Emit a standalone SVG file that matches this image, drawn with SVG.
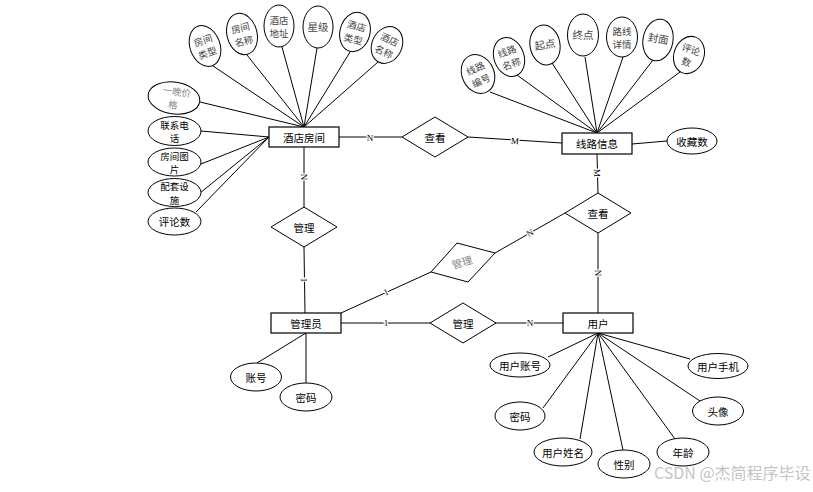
<svg xmlns="http://www.w3.org/2000/svg" width="813" height="492" viewBox="0 0 813 492">
<style>
.e{fill:#fff;stroke:#000;stroke-width:1}
.b{fill:#fff;stroke:#000;stroke-width:1.2}
.d{fill:#fff;stroke:#000;stroke-width:1}
.ln{stroke:#000;stroke-width:1;fill:none}
.t{font-family:"Noto Sans CJK SC","Noto Sans",sans-serif;font-size:10.5px;text-anchor:middle;dominant-baseline:central;fill:#000}
.s{font-size:9.5px}
.g{fill:#444}
.lg{fill:#888}
.l{font-family:"Liberation Serif","Noto Sans CJK SC",serif;font-size:9px;text-anchor:middle;dominant-baseline:central;fill:#000;stroke:#fff;stroke-width:2.5;paint-order:stroke}
.w{font-family:"Noto Sans CJK SC","Noto Sans",sans-serif;font-size:16px;fill:#c4c4c4}
</style>
<rect width="813" height="492" fill="#fff"/>
<g id="connectors">
<line class="ln" x1="213" y1="66" x2="304" y2="127"/>
<line class="ln" x1="247" y1="55" x2="304" y2="127"/>
<line class="ln" x1="282" y1="47" x2="304" y2="127"/>
<line class="ln" x1="317" y1="48" x2="304" y2="127"/>
<line class="ln" x1="350" y1="52" x2="304" y2="127"/>
<line class="ln" x1="378" y1="62" x2="304" y2="127"/>
<line class="ln" x1="200" y1="102" x2="304" y2="127"/>
<line class="ln" x1="201" y1="131" x2="269" y2="137"/>
<line class="ln" x1="201" y1="164" x2="269" y2="137"/>
<line class="ln" x1="200" y1="193" x2="269" y2="137"/>
<line class="ln" x1="196" y1="212" x2="269" y2="137"/>
<line class="ln" x1="490" y1="92" x2="597" y2="133"/>
<line class="ln" x1="517" y1="75" x2="597" y2="133"/>
<line class="ln" x1="552" y1="63" x2="597" y2="133"/>
<line class="ln" x1="585" y1="57" x2="597" y2="133"/>
<line class="ln" x1="623" y1="57" x2="597" y2="133"/>
<line class="ln" x1="653" y1="60" x2="597" y2="133"/>
<line class="ln" x1="680" y1="72" x2="597" y2="133"/>
<line class="ln" x1="632" y1="144" x2="667" y2="141"/>
<line class="ln" x1="339" y1="137" x2="402" y2="137"/>
<line class="ln" x1="468" y1="137" x2="562" y2="143"/>
<line class="ln" x1="304" y1="147" x2="304" y2="207"/>
<line class="ln" x1="304" y1="247" x2="305" y2="313"/>
<line class="ln" x1="341" y1="313" x2="431" y2="272"/>
<line class="ln" x1="495" y1="253" x2="565" y2="213"/>
<line class="ln" x1="597" y1="154" x2="598" y2="193"/>
<line class="ln" x1="598" y1="233" x2="598" y2="313"/>
<line class="ln" x1="341" y1="323" x2="430" y2="323"/>
<line class="ln" x1="495" y1="323" x2="563" y2="323"/>
<line class="ln" x1="306" y1="333" x2="257" y2="363"/>
<line class="ln" x1="306" y1="333" x2="306" y2="383"/>
<line class="ln" x1="598" y1="333" x2="548" y2="357"/>
<line class="ln" x1="598" y1="333" x2="690" y2="359"/>
<line class="ln" x1="598" y1="333" x2="543" y2="408"/>
<line class="ln" x1="598" y1="333" x2="700" y2="401"/>
<line class="ln" x1="598" y1="333" x2="580" y2="439"/>
<line class="ln" x1="598" y1="333" x2="623" y2="450"/>
<line class="ln" x1="598" y1="333" x2="675" y2="439"/>
<text class="l" x="370" y="138">N</text>
<text class="l" x="515" y="141" transform="rotate(4 515 141)">M</text>
<text class="l" x="304" y="177" transform="rotate(90 304 177)">N</text>
<text class="l" x="304" y="280" transform="rotate(90 304 280)">1</text>
<text class="l" x="386" y="292" transform="rotate(-25 386 292)">1</text>
<text class="l" x="530" y="233" transform="rotate(-30 530 233)">N</text>
<text class="l" x="597" y="173" transform="rotate(90 597 173)">M</text>
<text class="l" x="598" y="273" transform="rotate(90 598 273)">N</text>
<text class="l" x="386" y="323">1</text>
<text class="l" x="530" y="323">N</text>
</g>
<g id="hotel">
<rect class="b" x="269" y="127" width="70" height="20"/>
<text class="t" x="304" y="137">酒店房间</text>
</g>
<g id="hotel-attr-1" transform="rotate(-20 205 46)">
<ellipse class="e" cx="205" cy="46" rx="15" ry="21"/>
<text class="t s g" x="205" y="39.5">房间<tspan x="205" dy="13.5">类型</tspan></text>
</g>
<g id="hotel-attr-2" transform="rotate(-15 242 34)">
<ellipse class="e" cx="242" cy="34" rx="15" ry="21"/>
<text class="t s g" x="242" y="27.5">房间<tspan x="242" dy="13.5">名称</tspan></text>
</g>
<g id="hotel-attr-3">
<ellipse class="e" cx="279" cy="26" rx="15" ry="21"/>
<text class="t s g" x="279" y="19.5">酒店<tspan x="279" dy="13.5">地址</tspan></text>
</g>
<g id="hotel-attr-4">
<ellipse class="e" cx="318" cy="27" rx="15" ry="21"/>
<text class="t g" x="318" y="26">星级</text>
</g>
<g id="hotel-attr-5" transform="rotate(15 355 32)">
<ellipse class="e" cx="355" cy="32" rx="15" ry="20"/>
<text class="t s g" x="355" y="25.5">酒店<tspan x="355" dy="13.5">类型</tspan></text>
</g>
<g id="hotel-attr-6" transform="rotate(25 387 45)">
<ellipse class="e" cx="387" cy="45" rx="15" ry="19"/>
<text class="t s g" x="387" y="38.5">酒店<tspan x="387" dy="13.5">名称</tspan></text>
</g>
<g id="hotel-attr-7" transform="rotate(8 174 98)">
<ellipse class="e" cx="174" cy="98" rx="26" ry="16"/>
<text class="t s lg" x="176" y="91">一晚价<tspan x="174" dy="13.5">格</tspan></text>
</g>
<g id="hotel-attr-8">
<ellipse class="e" cx="174.5" cy="131" rx="26.5" ry="14.5"/>
<text class="t s" x="174.5" y="124.5">联系电<tspan x="174.5" dy="13.5">话</tspan></text>
</g>
<g id="hotel-attr-9">
<ellipse class="e" cx="174.5" cy="162" rx="26.5" ry="14"/>
<text class="t s" x="174.5" y="155.5">房间图<tspan x="174.5" dy="13.5">片</tspan></text>
</g>
<g id="hotel-attr-10">
<ellipse class="e" cx="174.5" cy="192.5" rx="26.5" ry="14"/>
<text class="t s" x="174.5" y="186">配套设<tspan x="174.5" dy="13.5">施</tspan></text>
</g>
<g id="hotel-attr-11">
<ellipse class="e" cx="174.5" cy="221.5" rx="26.5" ry="13.5"/>
<text class="t" x="174.5" y="221.5">评论数</text>
</g>
<g id="route">
<rect class="b" x="562" y="133" width="70" height="21"/>
<text class="t" x="597" y="143.5">线路信息</text>
</g>
<g id="route-attr-1" transform="rotate(-25 478 74)">
<ellipse class="e" cx="478" cy="74" rx="16" ry="20"/>
<text class="t s g" x="478" y="67.5">线路<tspan x="478" dy="13.5">编号</tspan></text>
</g>
<g id="route-attr-2" transform="rotate(-20 509 57)">
<ellipse class="e" cx="509" cy="57" rx="15" ry="20"/>
<text class="t s g" x="509" y="50.5">线路<tspan x="509" dy="13.5">名称</tspan></text>
</g>
<g id="route-attr-3" transform="rotate(-10 545 45)">
<ellipse class="e" cx="545" cy="45" rx="15" ry="20"/>
<text class="t g" x="545" y="44">起点</text>
</g>
<g id="route-attr-4">
<ellipse class="e" cx="583" cy="35" rx="15.5" ry="21"/>
<text class="t g" x="583" y="34">终点</text>
</g>
<g id="route-attr-5">
<ellipse class="e" cx="622" cy="37" rx="15.5" ry="20"/>
<text class="t s g" x="622" y="30.5">路线<tspan x="622" dy="13.5">详情</tspan></text>
</g>
<g id="route-attr-6" transform="rotate(10 658 40)">
<ellipse class="e" cx="658" cy="40" rx="15" ry="21"/>
<text class="t g" x="658" y="38">封面</text>
</g>
<g id="route-attr-7" transform="rotate(20 689 55)">
<ellipse class="e" cx="689" cy="55" rx="15" ry="19"/>
<text class="t s g" x="689" y="48.5">评论<tspan x="689" dy="13.5">数</tspan></text>
</g>
<g id="route-attr-8">
<ellipse class="e" cx="692" cy="141" rx="25" ry="13"/>
<text class="t" x="692" y="141">收藏数</text>
</g>
<g id="rel-view-top">
<polygon class="d" points="402,137 435,117 468,137 435,157"/>
<text class="t" x="435" y="137">查看</text>
</g>
<g id="rel-manage-left">
<polygon class="d" points="271,227 304,207 337,227 304,247"/>
<text class="t" x="304" y="227">管理</text>
</g>
<g id="rel-manage-mid">
<polygon class="d" points="431,272 457,243 495,253 468,282"/>
<text class="t lg" x="462" y="262" transform="rotate(-17 462 262)">管理</text>
</g>
<g id="rel-view-right">
<polygon class="d" points="565,213 598,193 631,213 598,233"/>
<text class="t" x="598" y="213">查看</text>
</g>
<g id="rel-manage-bottom">
<polygon class="d" points="430,323 463,303 496,323 463,343"/>
<text class="t" x="463" y="323">管理</text>
</g>
<g id="admin">
<rect class="b" x="271" y="313" width="70" height="20"/>
<text class="t" x="306" y="323">管理员</text>
</g>
<g id="admin-attr-1">
<ellipse class="e" cx="256" cy="377" rx="25.5" ry="14"/>
<text class="t" x="256" y="377">账号</text>
</g>
<g id="admin-attr-2">
<ellipse class="e" cx="306" cy="397" rx="26" ry="14"/>
<text class="t" x="306" y="397">密码</text>
</g>
<g id="user">
<rect class="b" x="563" y="313" width="70" height="20"/>
<text class="t" x="598" y="323">用户</text>
</g>
<g id="user-attr-1">
<ellipse class="e" cx="520" cy="365" rx="30" ry="12"/>
<text class="t" x="520" y="365">用户账号</text>
</g>
<g id="user-attr-2">
<ellipse class="e" cx="718" cy="366" rx="30" ry="12.5"/>
<text class="t" x="718" y="366">用户手机</text>
</g>
<g id="user-attr-3">
<ellipse class="e" cx="520" cy="416" rx="25" ry="14"/>
<text class="t" x="520" y="416">密码</text>
</g>
<g id="user-attr-4">
<ellipse class="e" cx="718" cy="411" rx="25.5" ry="14"/>
<text class="t" x="718" y="411">头像</text>
</g>
<g id="user-attr-5">
<ellipse class="e" cx="563" cy="452" rx="29" ry="14"/>
<text class="t" x="563" y="452">用户姓名</text>
</g>
<g id="user-attr-6">
<ellipse class="e" cx="624" cy="464" rx="26" ry="14"/>
<text class="t" x="624" y="464">性别</text>
</g>
<g id="user-attr-7">
<ellipse class="e" cx="683" cy="452" rx="26" ry="14"/>
<text class="t" x="683" y="452">年龄</text>
</g>
<text class="w" x="654" y="479">CSDN @杰简程序毕设</text>
</svg>
